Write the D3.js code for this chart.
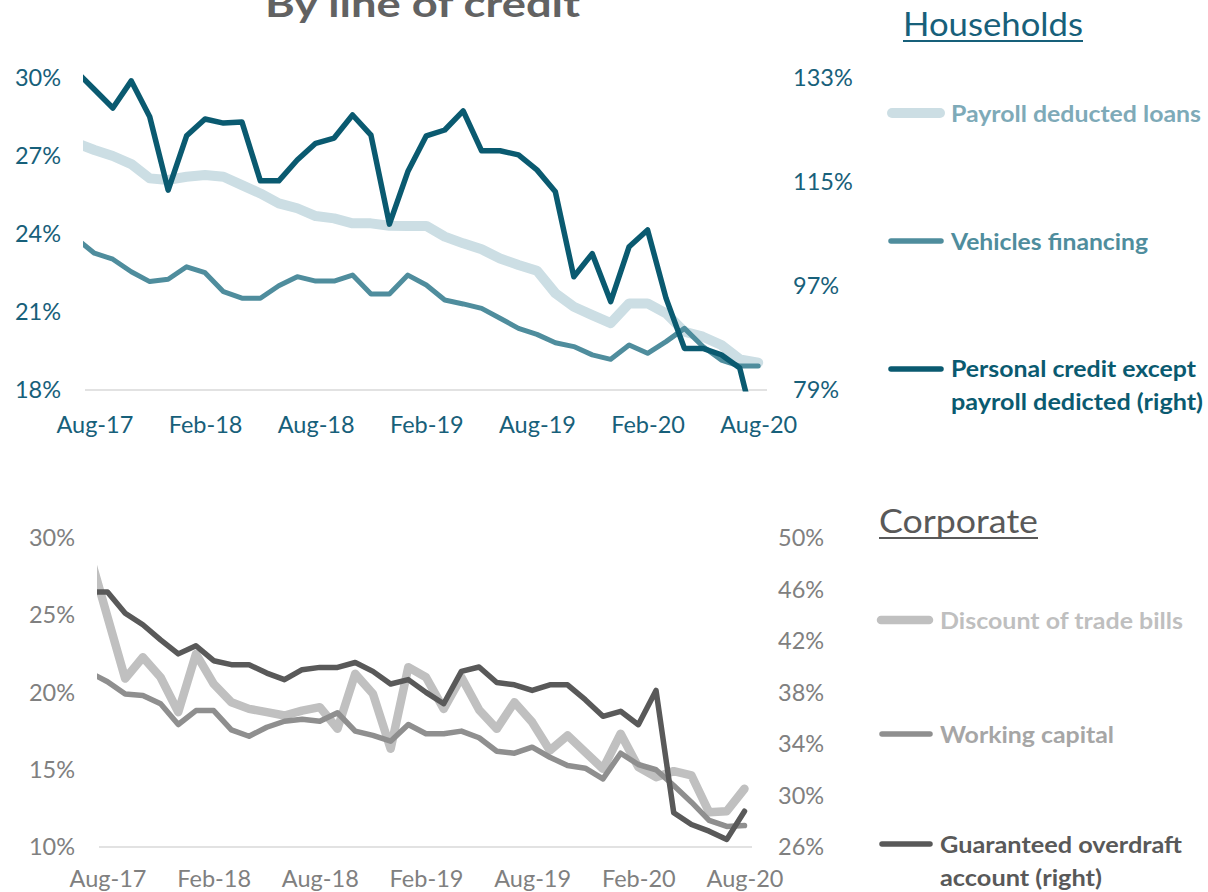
<!DOCTYPE html>
<html>
<head>
<meta charset="utf-8">
<script src="https://cdn.jsdelivr.net/npm/d3@7"></script>
<style>
  html, body { margin: 0; padding: 0; background: #ffffff; }
  svg { display: block; font-family: Lato, "Noto Sans", sans-serif; }
</style>
</head>
<body>
<svg id="chart" width="1208" height="892"></svg>
<script>
// Monthly observations, Jul-17 to Aug-20 (Jul-17 sits just left of the visible window)
const months = ["Jul-17","Aug-17","Sep-17","Oct-17","Nov-17","Dec-17","Jan-18","Feb-18","Mar-18","Apr-18",
  "May-18","Jun-18","Jul-18","Aug-18","Sep-18","Oct-18","Nov-18","Dec-18","Jan-19","Feb-19","Mar-19",
  "Apr-19","May-19","Jun-19","Jul-19","Aug-19","Sep-19","Oct-19","Nov-19","Dec-19","Jan-20","Feb-20",
  "Mar-20","Apr-20","May-20","Jun-20","Jul-20","Aug-20"];
const tickMonths = ["Aug-17","Feb-18","Aug-18","Feb-19","Aug-19","Feb-20","Aug-20"];

// Households (left axis, %)
const payrollLoans = [27.5, 27.23, 27.0, 26.69, 26.14, 26.08, 26.2, 26.27, 26.2, 25.88, 25.56, 25.18, 24.99,
  24.69, 24.6, 24.41, 24.41, 24.32, 24.31, 24.31, 23.9, 23.64, 23.41, 23.06, 22.81, 22.59, 21.72, 21.2,
  20.88, 20.57, 21.33, 21.33, 20.95, 20.24, 20.05, 19.73, 19.18, 19.05];
const vehiclesFinancing = [23.84, 23.26, 23.03, 22.55, 22.17, 22.26, 22.74, 22.51, 21.78, 21.53, 21.53, 22.01,
  22.36, 22.19, 22.19, 22.42, 21.69, 21.69, 22.42, 22.04, 21.46, 21.31, 21.14, 20.76, 20.37, 20.14, 19.82,
  19.67, 19.35, 19.18, 19.73, 19.41, 19.86, 20.37, 19.67, 19.15, 18.92, 18.92];
// Households (right axis, %)
const personalCredit = [134.2, 131.0, 127.8, 132.5, 126.3, 113.6, 123.0, 125.9, 125.2, 125.4, 115.2, 115.2,
  118.8, 121.7, 122.6, 126.6, 123.1, 107.7, 116.8, 123.0, 124.0, 127.3, 120.4, 120.4, 119.7, 117.1, 113.3,
  98.6, 102.6, 94.3, 103.8, 106.7, 94.9, 86.2, 86.2, 85.1, 82.8, 70.0];

// Corporate (left axis, %)
const tradeBills = [28.9, 24.9, 20.9, 22.28, 20.99, 18.73, 22.5, 20.56, 19.37, 18.94, 18.73, 18.51, 18.83,
  19.05, 17.65, 21.21, 19.92, 16.36, 21.64, 20.99, 18.94, 20.99, 18.88, 17.65, 19.37, 18.08, 16.25, 17.22,
  16.14, 15.06, 17.33, 15.17, 14.52, 14.91, 14.63, 12.25, 12.32, 13.77];
const workingCapital = [21.29, 20.7, 19.9, 19.81, 19.27, 17.93, 18.83, 18.83, 17.58, 17.17, 17.75, 18.14,
  18.27, 18.14, 18.69, 17.5, 17.22, 16.85, 17.93, 17.33, 17.33, 17.5, 17.07, 16.2, 16.07, 16.46, 15.81,
  15.28, 15.1, 14.41, 16.07, 15.34, 15.0, 13.98, 12.9, 11.72, 11.33, 11.39];
// Corporate (right axis, %)
const overdraft = [45.8, 45.8, 44.16, 43.26, 42.09, 41.0, 41.63, 40.47, 40.16, 40.16, 39.51, 39.0, 39.77,
  39.95, 39.95, 40.33, 39.64, 38.66, 39.0, 38.01, 37.13, 39.64, 39.98, 38.78, 38.6, 38.16, 38.6, 38.6,
  37.44, 36.15, 36.54, 35.5, 38.16, 28.66, 27.75, 27.23, 26.59, 28.78];

const hhLeftTicks = [18, 21, 24, 27, 30];
const hhRightTicks = [79, 97, 115, 133];
const coLeftTicks = [10, 15, 20, 25, 30];
const coRightTicks = [26, 30, 34, 38, 42, 46, 50];

const svg = d3.select("#chart");
const monthIndex = m => months.indexOf(m) - 1; // Aug-17 = 0

function panel(cfg) {
  const g = svg.append("g");
  const x = d3.scaleLinear().domain([0, 36]).range(cfg.xRange);
  const yL = d3.scaleLinear().domain(cfg.leftDomain).range([cfg.bottom, cfg.top]);
  const yR = d3.scaleLinear().domain(cfg.rightDomain).range([cfg.bottom, cfg.top]);

  const clipId = "clip-" + cfg.name;
  svg.append("defs").append("clipPath").attr("id", clipId)
    .append("rect").attr("x", cfg.plotLeft).attr("y", 0)
    .attr("width", cfg.plotRight + 20 - cfg.plotLeft).attr("height", cfg.bottom + 1.5);

  // baseline
  g.append("line")
    .attr("x1", cfg.plotLeft + 2).attr("x2", cfg.plotRight)
    .attr("y1", cfg.bottom).attr("y2", cfg.bottom)
    .attr("stroke", "#d9d9d9").attr("stroke-width", 1.6);

  const lines = g.append("g").attr("clip-path", `url(#${clipId})`);
  cfg.series.forEach(s => {
    const y = s.axis === "right" ? yR : yL;
    const line = d3.line().x((d, i) => x(i - 1)).y(d => y(d));
    lines.append("path").datum(s.values)
      .attr("d", line)
      .attr("fill", "none")
      .attr("stroke", s.color)
      .attr("stroke-width", s.width)
      .attr("stroke-linejoin", "round")
      .attr("stroke-linecap", "round");
  });

  // axes
  const fmt = d => d + "%";
  const axisStyle = sel => {
    sel.select(".domain").remove();
    sel.selectAll(".tick line").remove();
    sel.selectAll("text").attr("fill", cfg.axisColor)
      .style("font-size", cfg.axisFont + "px").style("font-family", "Lato, sans-serif");
  };
  g.append("g").attr("transform", `translate(${cfg.leftLabelX},0)`)
    .call(d3.axisLeft(yL).tickValues(cfg.leftTicks).tickFormat(fmt).tickSize(0).tickPadding(0))
    .call(axisStyle);
  g.append("g").attr("transform", `translate(${cfg.rightLabelX},0)`)
    .call(d3.axisRight(yR).tickValues(cfg.rightTicks).tickFormat(fmt).tickSize(0).tickPadding(0))
    .call(axisStyle);
  g.append("g").attr("transform", `translate(0,${cfg.xLabelY})`)
    .call(d3.axisBottom(x).tickValues(tickMonths.map(monthIndex))
      .tickFormat(i => months[i + 1]).tickSize(0).tickPadding(0))
    .call(axisStyle)
    .call(sel => sel.selectAll("text").attr("dy", "0").attr("y", 0));

  // title + legend
  const lg = svg.append("g");
  const t = lg.append("text").attr("x", cfg.titleX).attr("y", cfg.titleY)
    .attr("fill", cfg.titleColor).style("font-size", cfg.titleFont + "px")
    .attr("textLength", cfg.titleW).attr("lengthAdjust", "spacingAndGlyphs")
    .text(cfg.title);
  lg.append("line").attr("x1", cfg.titleX).attr("x2", cfg.titleX + cfg.titleW)
    .attr("y1", cfg.titleY + 5).attr("y2", cfg.titleY + 5)
    .attr("stroke", cfg.titleColor).attr("stroke-width", 2);

  cfg.series.forEach(s => {
    lg.append("line").attr("x1", s.lx1).attr("x2", s.lx2).attr("y1", s.ly).attr("y2", s.ly)
      .attr("stroke", s.color).attr("stroke-width", s.legendWidth).attr("stroke-linecap", "round");
    s.labelLines.forEach((txt, k) => {
      lg.append("text").attr("x", cfg.legendTextX).attr("y", s.ty + k * cfg.legendLead)
        .attr("fill", s.textColor).style("font-size", cfg.legendFont + "px")
        .style("font-weight", "700")
        .attr("textLength", s.tw[k]).attr("lengthAdjust", "spacingAndGlyphs")
        .text(txt);
    });
  });
}

// Households panel
panel({
  name: "hh",
  xRange: [94.4, 758.2], plotLeft: 83, plotRight: 767,
  top: 78, bottom: 390,
  leftDomain: [18, 30], rightDomain: [79, 133],
  leftTicks: hhLeftTicks, rightTicks: hhRightTicks,
  leftLabelX: 61, rightLabelX: 793, xLabelY: 433,
  axisColor: "#17607a", axisFont: 23.5,
  title: "Households", titleX: 903, titleY: 36, titleW: 180, titleFont: 32, titleColor: "#17607a",
  legendTextX: 951, legendFont: 23, legendLead: 32.6,
  series: [
    { values: payrollLoans, axis: "left", color: "#ccdee4", width: 10, legendWidth: 10,
      lx1: 892, lx2: 940, ly: 113, labelLines: ["Payroll deducted loans"], tw: [250], ty: 122, textColor: "#7eaab8" },
    { values: vehiclesFinancing, axis: "left", color: "#4f8d9d", width: 5, legendWidth: 5.5,
      lx1: 891, lx2: 941, ly: 241, labelLines: ["Vehicles financing"], tw: [197], ty: 250, textColor: "#4f8d9d" },
    { values: personalCredit, axis: "right", color: "#0a5a70", width: 5.5, legendWidth: 5.5,
      lx1: 891, lx2: 941, ly: 369, labelLines: ["Personal credit except", "payroll dedicted (right)"],
      tw: [245, 252], ty: 377, textColor: "#0a5a70" }
  ]
});

// Corporate panel
panel({
  name: "co",
  xRange: [107.5, 744.5], plotLeft: 97, plotRight: 752,
  top: 538, bottom: 847,
  leftDomain: [10, 30], rightDomain: [26, 50],
  leftTicks: coLeftTicks, rightTicks: coRightTicks,
  leftLabelX: 75, rightLabelX: 778, xLabelY: 887,
  axisColor: "#808080", axisFont: 23.5,
  title: "Corporate", titleX: 879, titleY: 533, titleW: 159, titleFont: 32, titleColor: "#595959",
  legendTextX: 940, legendFont: 23, legendLead: 33,
  series: [
    { values: tradeBills, axis: "left", color: "#c0c0c0", width: 8.5, legendWidth: 8.5,
      lx1: 881, lx2: 929, ly: 620, labelLines: ["Discount of trade bills"], tw: [243], ty: 628.5, textColor: "#bfbfbf" },
    { values: workingCapital, axis: "left", color: "#8f8f8f", width: 5.5, legendWidth: 5.5,
      lx1: 882, lx2: 930, ly: 734, labelLines: ["Working capital"], tw: [174], ty: 742.5, textColor: "#a6a6a6" },
    { values: overdraft, axis: "right", color: "#595959", width: 5.5, legendWidth: 5.5,
      lx1: 882, lx2: 930, ly: 844, labelLines: ["Guaranteed overdraft", "account (right)"],
      tw: [242, 162], ty: 853, textColor: "#595959" }
  ]
});

// Heading over both panels
svg.append("text").attr("x", 265).attr("y", 17)
  .attr("fill", "#626262").style("font-size", "37px").style("font-weight", "700")
  .attr("textLength", 315).attr("lengthAdjust", "spacingAndGlyphs")
  .text("By line of credit");
</script>
</body>
</html>
